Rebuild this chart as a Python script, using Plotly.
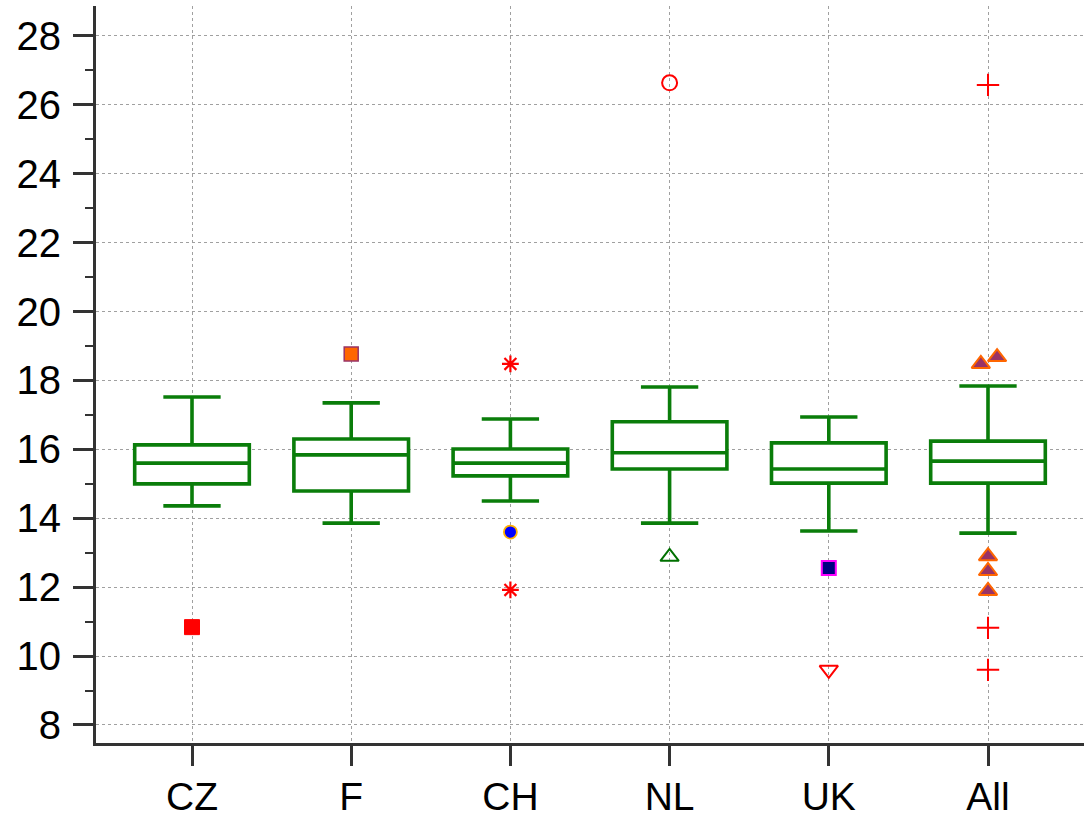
import plotly.graph_objects as go

categories = ["CZ", "F", "CH", "NL", "UK", "All"]
q1 = [15.00, 14.79, 15.23, 15.43, 15.02, 15.02]
median = [15.60, 15.84, 15.60, 15.90, 15.43, 15.66]
q3 = [16.13, 16.30, 16.01, 16.80, 16.19, 16.24]
lower_whisker = [14.36, 13.86, 14.50, 13.86, 13.63, 13.57]
upper_whisker = [17.52, 17.35, 16.88, 17.81, 16.94, 17.84]

# outlier values per category
cz_out = [10.84]
f_out = [18.77]
ch_star = [18.48, 11.92]
ch_circle = [13.60]
nl_circle = [26.64]
nl_tri = [12.88]
uk_square = [12.56]
uk_tri = [9.60]
all_plus = [26.58, 10.82, 9.60]
all_tri_vals = [18.48, 18.68, 12.90, 12.47, 11.89]
all_tri_offsets = [-0.045, 0.057, 0.0, 0.0, 0.0]

GREEN = "#0A7D0A"
FONT = "Liberation Sans, Arial, sans-serif"

fig = go.Figure()

fig.add_trace(go.Box(
    x=list(range(len(categories))),
    q1=q1, median=median, q3=q3,
    lowerfence=lower_whisker, upperfence=upper_whisker,
    width=0.72, whiskerwidth=0.5,
    line=dict(color=GREEN, width=3.6),
    fillcolor="white", boxpoints=False, showlegend=False,
))

def pts(idx, vals, offsets=None, **marker):
    offs = offsets if offsets is not None else [0.0] * len(vals)
    fig.add_trace(go.Scatter(
        x=[idx + o for o in offs], y=vals, mode="markers",
        marker=marker, showlegend=False, cliponaxis=False,
    ))

pts(0, cz_out, symbol="square", size=15, color="#FF0000", line=dict(color="#FF0000", width=1))
pts(1, f_out, symbol="square", size=14, color="#FF6600", line=dict(color="#993366", width=1.5))
pts(2, ch_star, symbol="asterisk-open", size=14, color="#FF0000", line=dict(color="#FF0000", width=2.2))
pts(2, ch_circle, symbol="circle", size=13, color="#0000FF", line=dict(color="#FFB000", width=1.8))
pts(3, nl_circle, symbol="circle-open", size=15, color="#FF0000", line=dict(color="#FF0000", width=2))
pts(3, nl_tri, symbol="triangle-up-open", size=16, color="#007000", line=dict(color="#007000", width=2))
pts(4, uk_square, symbol="square", size=14, color="#000080", line=dict(color="#FF00FF", width=2))
pts(4, uk_tri, symbol="triangle-down-open", size=16, color="#FF0000", line=dict(color="#FF0000", width=2))
pts(5, all_plus, symbol="cross-thin-open", size=16, color="#FF0000", line=dict(color="#FF0000", width=2))
pts(5, all_tri_vals, all_tri_offsets, symbol="triangle-up", size=16, color="#993366",
    line=dict(color="#FF6600", width=2))

fig.update_layout(
    width=1084, height=819,
    margin=dict(l=96, r=0, t=6, b=76),
    paper_bgcolor="white", plot_bgcolor="white",
    font=dict(family=FONT, color="black"),
    showlegend=False,
)

fig.update_xaxes(
    range=[-0.603, 5.603],
    tickmode="array", tickvals=list(range(len(categories))), ticktext=categories,
    tickfont=dict(size=39, family=FONT, color="black"),
    ticks="outside", ticklen=20, tickwidth=3, tickcolor="#333333",
    ticklabelstandoff=-3,
    showline=True, linecolor="#333333", linewidth=3,
    showgrid=True, gridcolor="#A0A0A0", griddash="dot", gridwidth=1,
    zeroline=False, automargin=False,
)

fig.update_yaxes(
    range=[7.477, 28.87],
    tickmode="linear", tick0=8, dtick=2,
    tickfont=dict(size=40, family=FONT, color="black"),
    ticks="outside", ticklen=20, tickwidth=3, tickcolor="#333333",
    ticklabelstandoff=4,
    minor=dict(ticks="outside", ticklen=8, tickwidth=2, tickcolor="#333333",
               dtick=1, tick0=9, showgrid=False),
    showline=True, linecolor="#333333", linewidth=3,
    showgrid=True, gridcolor="#A0A0A0", griddash="dot", gridwidth=1,
    zeroline=False, automargin=False,
)

fig.write_html("out.html", config={"displayModeBar": False},
               post_script="document.body.style.margin='0';document.body.style.padding='0';")
